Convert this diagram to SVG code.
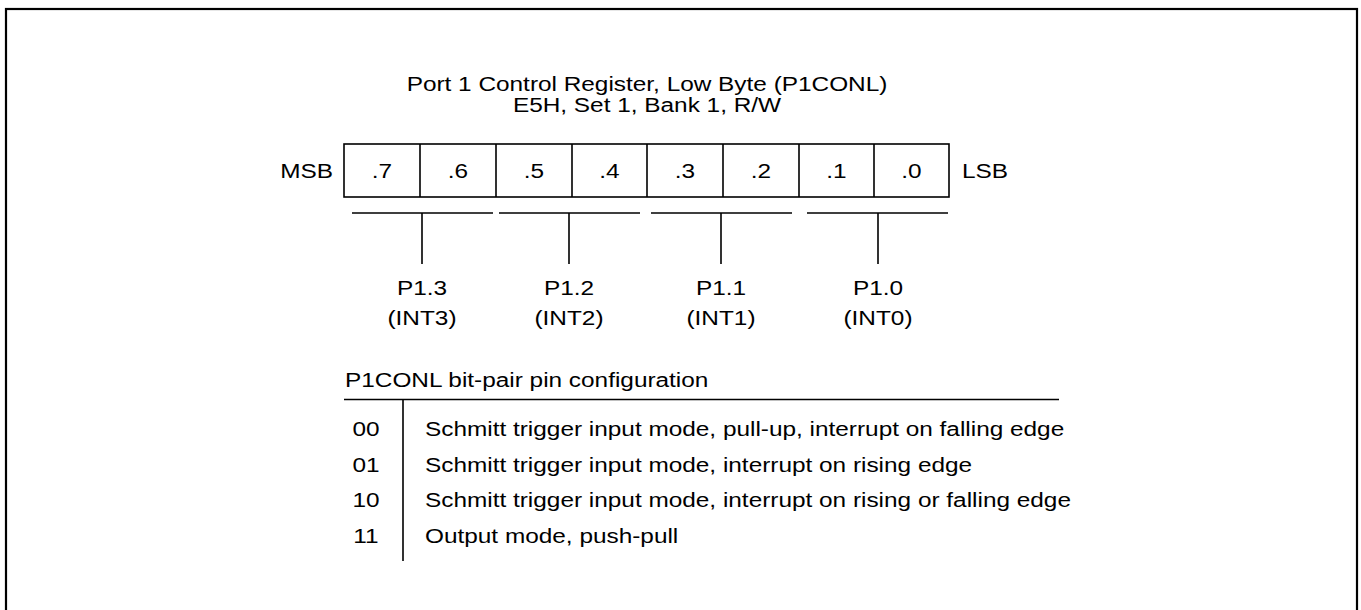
<svg xmlns="http://www.w3.org/2000/svg" width="1361" height="610" viewBox="0 0 1361 610">
<style>
  .t { font-family: "Liberation Sans", Arial, sans-serif; font-size: 19.5px; fill: #000; }
  .m { text-anchor: middle; }
  .e { text-anchor: end; }
  .ln { stroke: #000; stroke-width: 1.6; fill: none; }
</style>
<rect x="6" y="9" width="1351" height="620" fill="#fff" stroke="#000" stroke-width="2.2"/>
<g id="title" transform="scale(1.25 1)">
  <text class="t m" x="517.6" y="91.5">Port 1 Control Register, Low Byte (P1CONL)</text>
  <text class="t m" x="517.6" y="112">E5H, Set 1, Bank 1, R/W</text>
</g>
<g id="register">
  <rect class="ln" x="344" y="144" width="605" height="53"/>
  <path class="ln" d="M420 144V197M496 144V197M572 144V197M647 144V197M723 144V197M799 144V197M874 144V197"/>
  <g transform="scale(1.25 1)">
    <text class="t e" x="266.4" y="178">MSB</text>
    <text class="t" x="769.6" y="178">LSB</text>
    <text class="t m" x="305.6" y="178">.7</text>
    <text class="t m" x="366.4" y="178">.6</text>
    <text class="t m" x="427.2" y="178">.5</text>
    <text class="t m" x="487.6" y="178">.4</text>
    <text class="t m" x="548" y="178">.3</text>
    <text class="t m" x="608.8" y="178">.2</text>
    <text class="t m" x="669.2" y="178">.1</text>
    <text class="t m" x="729.2" y="178">.0</text>
  </g>
</g>
<g id="connectors">
  <path class="ln" d="M352 213H493M422 213V264"/>
  <path class="ln" d="M499 213H640M569 213V264"/>
  <path class="ln" d="M651 213H792M721 213V264"/>
  <path class="ln" d="M807 213H948M878 213V264"/>
</g>
<g id="pin-p13" transform="scale(1.25 1)">
  <text class="t m" x="337.6" y="295">P1.3</text>
  <text class="t m" x="337.6" y="325">(INT3)</text>
</g>
<g id="pin-p12" transform="scale(1.25 1)">
  <text class="t m" x="455.2" y="295">P1.2</text>
  <text class="t m" x="455.2" y="325">(INT2)</text>
</g>
<g id="pin-p11" transform="scale(1.25 1)">
  <text class="t m" x="576.8" y="295">P1.1</text>
  <text class="t m" x="576.8" y="325">(INT1)</text>
</g>
<g id="pin-p10" transform="scale(1.25 1)">
  <text class="t m" x="702.4" y="295">P1.0</text>
  <text class="t m" x="702.4" y="325">(INT0)</text>
</g>
<g id="config-table">
  <path class="ln" d="M344 399.5H1059M403 399.5V561"/>
  <g transform="scale(1.25 1)">
    <text class="t" x="276" y="387">P1CONL bit-pair pin configuration</text>
    <text class="t m" x="292.8" y="436.5">00</text>
    <text class="t m" x="292.8" y="472">01</text>
    <text class="t m" x="292.8" y="507.5">10</text>
    <text class="t m" x="292.8" y="543">11</text>
    <text class="t" x="340" y="436.5">Schmitt trigger input mode, pull-up, interrupt on falling edge</text>
    <text class="t" x="340" y="472">Schmitt trigger input mode, interrupt on rising edge</text>
    <text class="t" x="340" y="507.5">Schmitt trigger input mode, interrupt on rising or falling edge</text>
    <text class="t" x="340" y="543">Output mode, push-pull</text>
  </g>
</g>
</svg>
